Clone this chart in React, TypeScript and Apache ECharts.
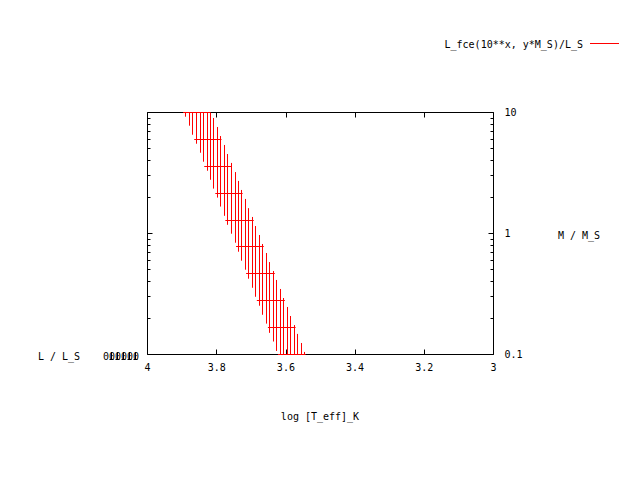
import React, { useEffect, useRef } from 'react';
import * as echarts from 'echarts';

// x samples (log T_eff) of the constant-T isolines that fall inside the z range
const logTeff = [
  3.889, 3.879, 3.869, 3.859, 3.848, 3.838, 3.828, 3.818, 3.808, 3.798,
  3.788, 3.778, 3.768, 3.758, 3.747, 3.737, 3.727, 3.717, 3.707, 3.697,
  3.687, 3.677, 3.667, 3.657, 3.646, 3.636, 3.626, 3.616, 3.606, 3.596,
  3.586, 3.576, 3.566, 3.556, 3.545,
];
// upper end (M / M_S) of each constant-T isoline
const massUpper = [
  10, 10, 10, 10, 10, 10, 10, 10, 9.01, 7.59,
  6.39, 5.39, 4.54, 3.83, 3.22, 2.72, 2.29, 1.93, 1.62, 1.37,
  1.153, 0.972, 0.819, 0.69, 0.581, 0.49, 0.413, 0.348, 0.293, 0.247,
  0.208, 0.175, 0.148, 0.1245, 0.105,
];
// lower end (M / M_S) of each constant-T isoline
const massLower = [
  9.23, 7.78, 6.55, 5.52, 4.65, 3.92, 3.3, 2.78, 2.35, 1.98,
  1.67, 1.4, 1.18, 0.996, 0.839, 0.707, 0.596, 0.502, 0.423, 0.356,
  0.3, 0.253, 0.213, 0.18, 0.151, 0.128, 0.107, 0.1, 0.1, 0.1,
  0.1, 0.1, 0.1, 0.1, 0.1,
];
// constant-M isolines
const isoMass = [10, 5.995, 3.594, 2.154, 1.292, 0.774, 0.464, 0.278, 0.167, 0.1];
const isoTeffHot = [3.897, 3.865, 3.836, 3.804, 3.775, 3.744, 3.715, 3.684, 3.652, 3.623];
const isoTeffCool = [3.819, 3.786, 3.757, 3.725, 3.693, 3.664, 3.632, 3.603, 3.572, 3.543];

const xTickLabels = ['4', '3.8', '3.6', '3.4', '3.2', '3'];
const yTickLabels = ['0.1', '1', '10'];
const yMinorTicks = [0.2, 0.3, 0.4, 0.5, 0.6, 0.7, 0.8, 0.9, 2, 3, 4, 5, 6, 7, 8, 9];

const legendLabel = 'L_fce(10**x, y*M_S)/L_S';
const xName = 'log [T_eff]_K';
const yName = 'M / M_S';
const zName = 'L / L_S';
const zTickText = '000000';

const FONT = '"DejaVu Sans Mono", "Liberation Mono", monospace';
const RED = '#ff0000';

const crisp = (v: number) => Math.floor(v) + 0.5;

export default function App() {
  const ref = useRef<HTMLDivElement>(null);
  useEffect(() => {
    if (!ref.current) return;
    const chart = echarts.init(ref.current, null, { renderer: 'svg' });

    const verticalData = logTeff.map((t, i) => [t, massLower[i], massUpper[i]]);
    const horizontalData = isoMass.map((m, j) => [isoTeffHot[j], isoTeffCool[j], m]);
    const minorData = yMinorTicks.map((m) => [4, m]);

    const textEl = (text: string, x: number, y: number, align: string) => ({
      type: 'text',
      x,
      y,
      silent: true,
      style: {
        text,
        fill: '#000',
        font: `10px ${FONT}`,
        align,
        textAlign: align,
        verticalAlign: 'middle',
        textVerticalAlign: 'middle',
      },
    });

    // overprinted strokes of the collapsed z tick labels (drawn as marks, not text)
    const overStrokes = [1, 2, 3, 4, 5].map((k) => {
      const cx = crisp(139 - 6.02 * zTickText.length + 6.02 * (k + 0.5));
      return {
        type: 'group',
        silent: true,
        children: [
          { type: 'line', shape: { x1: cx, y1: 352, x2: cx, y2: 360 }, style: { stroke: '#000', lineWidth: 1 } },
          { type: 'line', shape: { x1: cx - 2, y1: 359.5, x2: cx + 2, y2: 359.5 }, style: { stroke: '#000', lineWidth: 1 } },
        ],
      };
    });

    const baseX = {
      type: 'value',
      min: 3,
      max: 4,
      interval: 0.2,
      inverse: true,
      splitLine: { show: false },
      axisLine: { show: false },
      axisTick: { show: true, inside: true, length: 5, lineStyle: { color: '#000', width: 1 } },
    };
    const baseY = {
      type: 'log',
      logBase: 10,
      min: 0.1,
      max: 10,
      splitLine: { show: false },
      axisLine: { show: false },
      axisTick: { show: true, inside: true, length: 5, lineStyle: { color: '#000', width: 1 } },
    };

    chart.setOption({
      animation: false,
      textStyle: { fontFamily: FONT, fontSize: 10, color: '#000' },
      grid: {
        left: 147.5,
        top: 112.5,
        width: 346,
        height: 242,
        show: true,
        borderColor: '#000',
        borderWidth: 1,
        backgroundColor: 'transparent',
      },
      xAxis: [
        {
          ...baseX,
          position: 'bottom',
          axisLabel: {
            show: true,
            margin: 8,
            color: '#000',
            fontFamily: FONT,
            fontSize: 10,
            formatter: (v: number) => xTickLabels[Math.round((4 - v) / 0.2)] ?? '',
          },
        },
        { ...baseX, position: 'top', axisLabel: { show: false } },
      ],
      yAxis: [
        { ...baseY, position: 'left', axisLabel: { show: false } },
        {
          ...baseY,
          position: 'right',
          axisLabel: {
            show: true,
            margin: 11,
            color: '#000',
            fontFamily: FONT,
            fontSize: 10,
            formatter: (v: number) => yTickLabels[Math.round(Math.log10(v)) + 1] ?? '',
          },
        },
      ],
      series: [
        {
          type: 'custom',
          name: 'minor',
          xAxisIndex: 0,
          yAxisIndex: 0,
          silent: true,
          encode: { x: 0, y: 1 },
          data: minorData,
          renderItem: (params: any, api: any) => {
            const l = api.coord([4, api.value(1)]);
            const r = api.coord([3, api.value(1)]);
            const y = crisp(l[1]);
            return {
              type: 'group',
              children: [
                { type: 'line', shape: { x1: l[0], y1: y, x2: l[0] + 3, y2: y }, style: { stroke: '#000', lineWidth: 1 } },
                { type: 'line', shape: { x1: r[0] - 3, y1: y, x2: r[0], y2: y }, style: { stroke: '#000', lineWidth: 1 } },
              ],
            };
          },
        },
        {
          type: 'custom',
          name: 'isoT',
          xAxisIndex: 0,
          yAxisIndex: 0,
          silent: true,
          encode: { x: 0, y: [1, 2] },
          data: verticalData,
          z: 5,
          renderItem: (params: any, api: any) => {
            const a = api.coord([api.value(0), api.value(1)]);
            const b = api.coord([api.value(0), api.value(2)]);
            const x = crisp(a[0]);
            return {
              type: 'line',
              shape: { x1: x, y1: a[1], x2: x, y2: b[1] },
              style: { stroke: RED, lineWidth: 1 },
            };
          },
        },
        {
          type: 'custom',
          name: 'isoM',
          xAxisIndex: 0,
          yAxisIndex: 0,
          silent: true,
          encode: { x: [0, 1], y: 2 },
          data: horizontalData,
          z: 5,
          renderItem: (params: any, api: any) => {
            const a = api.coord([api.value(0), api.value(2)]);
            const b = api.coord([api.value(1), api.value(2)]);
            const y = crisp(a[1]);
            return {
              type: 'line',
              shape: { x1: a[0], y1: y, x2: b[0], y2: y },
              style: { stroke: RED, lineWidth: 1 },
            };
          },
        },
      ],
      graphic: [
        textEl(legendLabel, 583, 44, 'right'),
        {
          type: 'line',
          silent: true,
          shape: { x1: 590, y1: 43.5, x2: 619, y2: 43.5 },
          style: { stroke: RED, lineWidth: 1 },
        },
        textEl(yName, 558, 235, 'left'),
        textEl(xName, 320, 416, 'center'),
        textEl(zName, 38, 356, 'left'),
        textEl(zTickText, 139, 356, 'right'),
        ...overStrokes,
      ],
    });
    return () => chart.dispose();
  }, []);
  return (
    <div
      ref={ref}
      style={{ position: 'absolute', left: 0, top: 0, width: 640, height: 480, background: '#fff' }}
    />
  );
}
